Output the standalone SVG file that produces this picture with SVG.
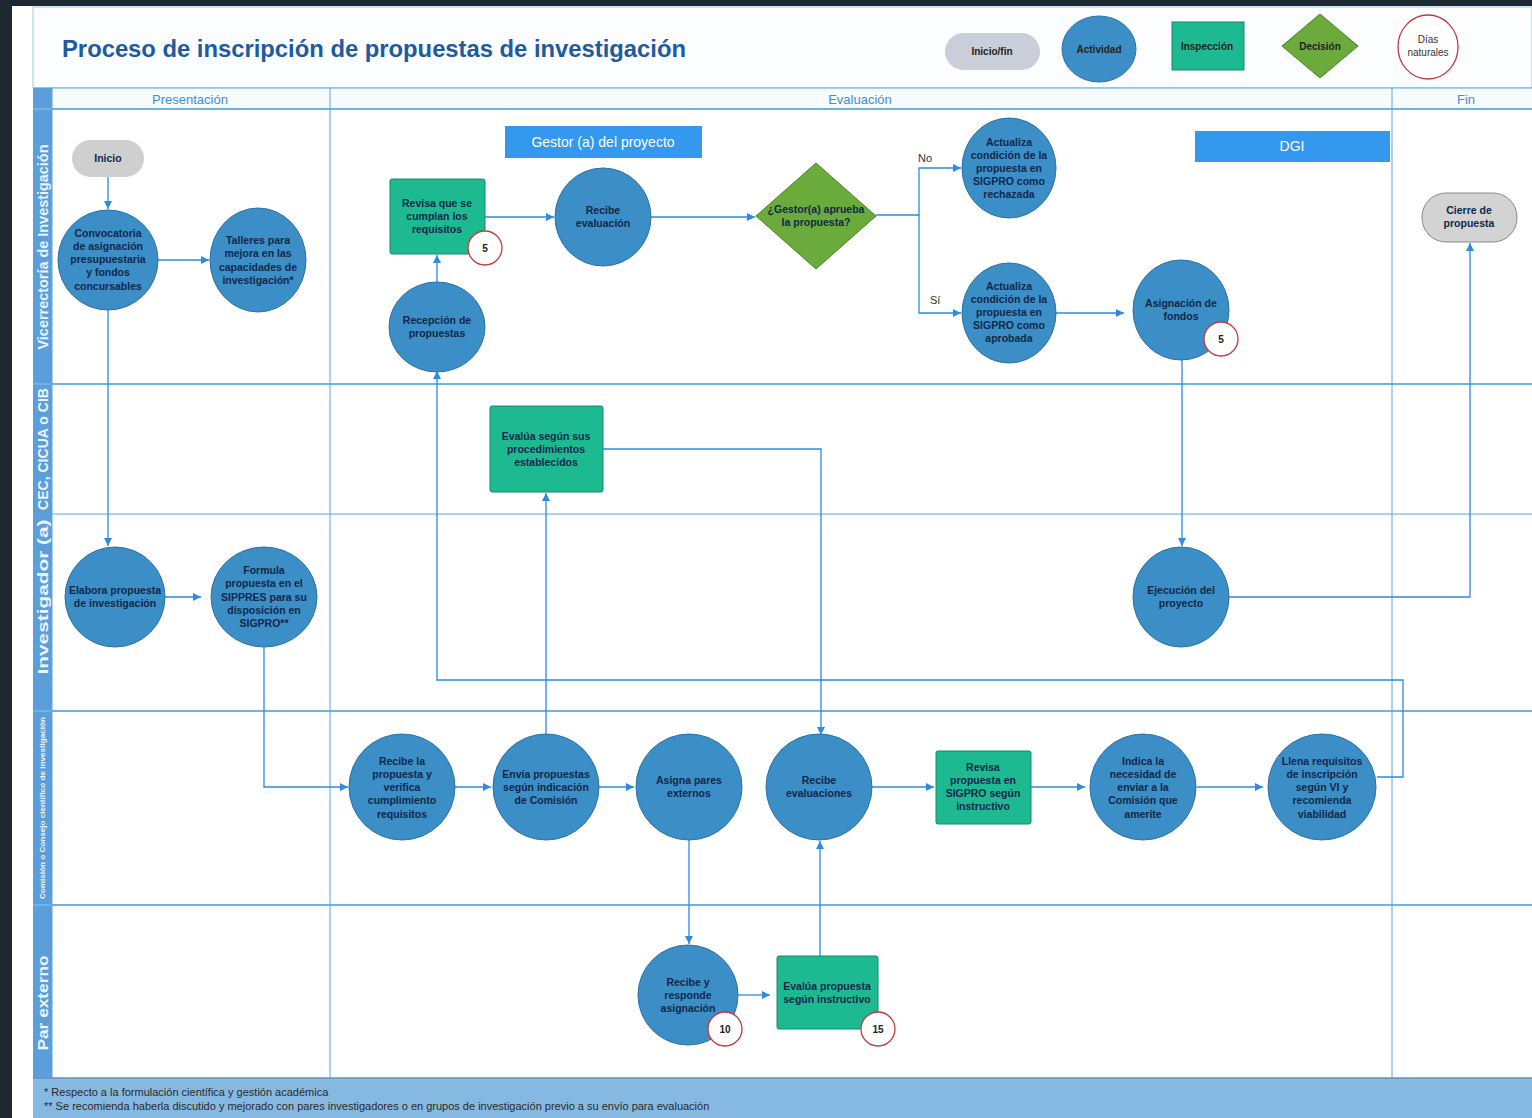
<svg xmlns="http://www.w3.org/2000/svg" width="1532" height="1118" viewBox="0 0 1532 1118">
<style>
.act{fill:#3b8ec6;stroke:#2c72a6;stroke-width:1}
.insp{fill:#1db991;stroke:#178a6c;stroke-width:1}
.dec{fill:#6bab3b;stroke:#4d7f2a;stroke-width:1}
.term{fill:#cfcfcf;stroke:none}
.badge{fill:#fff;stroke:#c23b3e;stroke-width:1.3}
.nt{font-family:"Liberation Sans",Arial,sans-serif;font-size:10.5px;font-weight:bold;fill:#10284a;text-anchor:middle}
.bt{font-family:"Liberation Sans",Arial,sans-serif;font-size:10px;font-weight:bold;fill:#222;text-anchor:middle}
.conn{fill:none;stroke:#2d8be3;stroke-width:1.3}
.grid{stroke:#5aa5dc;stroke-width:1;fill:none}
.lane{font-family:"Liberation Sans",Arial,sans-serif;font-weight:bold;fill:#eaf4fc;text-anchor:middle}
.phase{font-family:"Liberation Sans",Arial,sans-serif;font-size:13px;fill:#3a8fd6;text-anchor:middle}
.banner{fill:#3498ee}
.bannert{font-family:"Liberation Sans",Arial,sans-serif;font-size:14px;fill:#fff;text-anchor:middle}
.foot{font-family:"Liberation Sans",Arial,sans-serif;font-size:11px;fill:#2a2a2a}
.lbl{font-family:"Liberation Sans",Arial,sans-serif;font-size:11px;fill:#333}
</style>
<defs>
<marker id="arr" markerWidth="8" markerHeight="8" refX="8" refY="4" orient="auto" markerUnits="userSpaceOnUse">
<path d="M0,0 L8,4 L0,8 z" fill="#2d8be3"/>
</marker>
</defs>
<rect x="0" y="0" width="1532" height="1118" fill="#ffffff"/>
<rect x="0" y="0" width="1532" height="6" fill="#1e2833"/>
<rect x="0" y="0" width="12" height="1118" fill="#1e2833"/>

<g id="header">
<rect x="33" y="7" width="1499" height="81" fill="#fbfdff" stroke="#9ccbeb" stroke-width="1"/>
<text x="62" y="57" font-family="Liberation Sans, Arial, sans-serif" font-size="23" font-weight="bold" fill="#1d5a9e" textLength="624" lengthAdjust="spacingAndGlyphs">Proceso de inscripción de propuestas de investigación</text>
</g>

<g id="legend">
<rect x="945" y="33" width="95" height="37" rx="18.5" fill="#c9ced8"/>
<text class="bt" x="992" y="55">Inicio/fin</text>
<ellipse cx="1099" cy="49" rx="37" ry="33" class="act"/>
<text class="bt" x="1099" y="53">Actividad</text>
<rect x="1172" y="22" width="72" height="48" class="insp"/>
<text class="bt" x="1207" y="50">Inspección</text>
<polygon points="1320,14 1358,46 1320,78 1282,46" class="dec"/>
<text class="bt" x="1320" y="50">Decisión</text>
<ellipse cx="1428" cy="47" rx="30" ry="32" class="badge"/>
<text x="1428" y="43" font-family="Liberation Sans, Arial, sans-serif" font-size="10" fill="#333" text-anchor="middle">Días</text>
<text x="1428" y="56" font-family="Liberation Sans, Arial, sans-serif" font-size="10" fill="#333" text-anchor="middle">naturales</text>
</g>

<g id="pool">
<rect x="33" y="88" width="1499" height="21" fill="#f7fbfe"/>
<rect x="33" y="88" width="19" height="990" fill="#5c9ed9"/>
<rect x="33" y="1078" width="1499" height="40" fill="#86b9e2"/>
<line x1="33" y1="1078" x2="1532" y2="1078" stroke="#5b95c4" stroke-width="1.5"/>
<line x1="33" y1="88" x2="1532" y2="88" class="grid"/>
<line x1="33" y1="109" x2="1532" y2="109" stroke="#6fb2e3" stroke-width="2"/>
<line x1="33" y1="384" x2="1532" y2="384" stroke="#6fb2e3" stroke-width="2"/>
<line x1="33" y1="514" x2="1532" y2="514" class="grid"/>
<line x1="33" y1="711" x2="1532" y2="711" stroke="#6fb2e3" stroke-width="2"/>
<line x1="33" y1="905" x2="1532" y2="905" stroke="#6fb2e3" stroke-width="2"/>
<line x1="52" y1="88" x2="52" y2="1078" class="grid"/>
<line x1="330" y1="88" x2="330" y2="1078" class="grid"/>
<line x1="1392" y1="88" x2="1392" y2="1078" class="grid"/>
<text class="phase" x="190" y="104">Presentación</text>
<text class="phase" x="860" y="104">Evaluación</text>
<text class="phase" x="1466" y="104">Fin</text>
<text class="lane" font-size="14" transform="translate(48,247) rotate(-90)" textLength="205" lengthAdjust="spacingAndGlyphs">Vicerrectoría de Investigación</text>
<text class="lane" font-size="14" transform="translate(48,449) rotate(-90)" textLength="122" lengthAdjust="spacingAndGlyphs">CEC, CICUA o CIB</text>
<text class="lane" font-size="15" transform="translate(48,597) rotate(-90)" textLength="155" lengthAdjust="spacingAndGlyphs">Investigador (a)</text>
<text class="lane" font-size="7" font-weight="normal" transform="translate(45,808) rotate(-90)" textLength="182" lengthAdjust="spacingAndGlyphs">Comisión o Consejo científico de investigación</text>
<text class="lane" font-size="15" transform="translate(48,1003) rotate(-90)" textLength="95" lengthAdjust="spacingAndGlyphs">Par externo</text>
<text class="foot" x="44" y="1096">* Respecto a la formulación científica y gestión académica</text>
<text class="foot" x="44" y="1110">** Se recomienda haberla discutido y mejorado con pares investigadores o en grupos de investigación previo a su envío para evaluación</text>
</g>

<g id="banners">
<rect class="banner" x="505" y="126" width="197" height="32"/>
<text class="bannert" x="603" y="147">Gestor (a) del proyecto</text>
<rect class="banner" x="1195" y="131" width="195" height="31"/>
<text class="bannert" x="1292" y="151">DGI</text>
</g>

<g id="connectors">
<path class="conn" marker-end="url(#arr)" d="M108,177 V209"/>
<path class="conn" marker-end="url(#arr)" d="M158,260 H209"/>
<path class="conn" marker-end="url(#arr)" d="M108,310 V546"/>
<path class="conn" marker-end="url(#arr)" d="M165,597 H201"/>
<path class="conn" marker-end="url(#arr)" d="M264,647 V787 H348"/>
<path class="conn" marker-end="url(#arr)" d="M455,787 H491"/>
<path class="conn" marker-end="url(#arr)" d="M599,787 H634"/>
<path class="conn" marker-end="url(#arr)" d="M546,735 V493"/>
<path class="conn" marker-end="url(#arr)" d="M603,449 H821 V735"/>
<path class="conn" marker-end="url(#arr)" d="M689,840 V944"/>
<path class="conn" marker-end="url(#arr)" d="M738,995 H770"/>
<path class="conn" marker-end="url(#arr)" d="M820,956 V841"/>
<path class="conn" marker-end="url(#arr)" d="M872,787 H934"/>
<path class="conn" marker-end="url(#arr)" d="M1031,787 H1085"/>
<path class="conn" marker-end="url(#arr)" d="M1197,787 H1263"/>
<path class="conn" marker-end="url(#arr)" d="M1377,777 H1403 V680 H437 V371"/>
<path class="conn" marker-end="url(#arr)" d="M437,282 V255"/>
<path class="conn" marker-end="url(#arr)" d="M485,217 H554"/>
<path class="conn" marker-end="url(#arr)" d="M651,217 H755"/>
<path class="conn" marker-end="url(#arr)" d="M876,215 H919 V168 H961"/>
<path class="conn" marker-end="url(#arr)" d="M919,215 V313 H961"/>
<path class="conn" marker-end="url(#arr)" d="M1056,313 H1124"/>
<path class="conn" marker-end="url(#arr)" d="M1182,360 V546"/>
<path class="conn" marker-end="url(#arr)" d="M1229,597 H1470 V243"/>
<text class="lbl" x="918" y="162">No</text>
<text class="lbl" x="930" y="304">Sí</text>
</g>

<g id="n-inicio">
<rect x="72" y="140" width="72" height="37" rx="18.5" class="term"/>
<text class="nt" x="108" y="162" font-weight="normal" fill="#222">Inicio</text>
</g>
<g id="n-convocatoria">
<ellipse cx="108" cy="260" rx="50" ry="50" class="act"/>
<text class="nt"><tspan x="108" y="237">Convocatoria</tspan><tspan x="108" y="250">de asignación</tspan><tspan x="108" y="263">presupuestaria</tspan><tspan x="108" y="276">y fondos</tspan><tspan x="108" y="290">concursables</tspan></text>
</g>
<g id="n-talleres">
<ellipse cx="258" cy="260" rx="48" ry="52" class="act"/>
<text class="nt"><tspan x="258" y="244">Talleres para</tspan><tspan x="258" y="257">mejora en las</tspan><tspan x="258" y="271">capacidades de</tspan><tspan x="258" y="284">investigación*</tspan></text>
</g>
<g id="n-revisa-req">
<rect x="390" y="179" width="95" height="75" rx="2" class="insp"/>
<text class="nt"><tspan x="437" y="207">Revisa que se</tspan><tspan x="437" y="220">cumplan los</tspan><tspan x="437" y="233">requisitos</tspan></text>
<circle cx="485" cy="248" r="17" class="badge"/>
<text class="bt" x="485" y="252">5</text>
</g>
<g id="n-recibe-eval">
<ellipse cx="603" cy="217" rx="48" ry="49" class="act"/>
<text class="nt"><tspan x="603" y="214">Recibe</tspan><tspan x="603" y="227">evaluación</tspan></text>
</g>
<g id="n-recepcion">
<ellipse cx="437" cy="327" rx="48" ry="45" class="act"/>
<text class="nt"><tspan x="437" y="324">Recepción de</tspan><tspan x="437" y="337">propuestas</tspan></text>
</g>
<g id="n-decision">
<polygon points="816,163 876,216 816,269 756,216" class="dec"/>
<text class="nt"><tspan x="816" y="213">¿Gestor(a) aprueba</tspan><tspan x="816" y="226">la propuesta?</tspan></text>
</g>
<g id="n-rechazada">
<ellipse cx="1009" cy="168" rx="47" ry="50" class="act"/>
<text class="nt"><tspan x="1009" y="146">Actualiza</tspan><tspan x="1009" y="159">condición de la</tspan><tspan x="1009" y="172">propuesta en</tspan><tspan x="1009" y="185">SIGPRO como</tspan><tspan x="1009" y="198">rechazada</tspan></text>
</g>
<g id="n-aprobada">
<ellipse cx="1009" cy="313" rx="47" ry="50" class="act"/>
<text class="nt"><tspan x="1009" y="290">Actualiza</tspan><tspan x="1009" y="303">condición de la</tspan><tspan x="1009" y="316">propuesta en</tspan><tspan x="1009" y="329">SIGPRO como</tspan><tspan x="1009" y="342">aprobada</tspan></text>
</g>
<g id="n-asignacion">
<ellipse cx="1181" cy="310" rx="48" ry="50" class="act"/>
<text class="nt"><tspan x="1181" y="307">Asignación de</tspan><tspan x="1181" y="320">fondos</tspan></text>
<circle cx="1221" cy="339" r="17" class="badge"/>
<text class="bt" x="1221" y="343">5</text>
</g>
<g id="n-cierre">
<rect x="1422" y="193" width="95" height="49" rx="24" fill="#d3d3d3" stroke="#8a8a8a" stroke-width="1"/>
<text class="nt" font-weight="normal" fill="#222"><tspan x="1469" y="214">Cierre de</tspan><tspan x="1469" y="227">propuesta</tspan></text>
</g>
<g id="n-evalua-proc">
<rect x="490" y="406" width="113" height="86" rx="2" class="insp"/>
<text class="nt"><tspan x="546" y="440">Evalúa según sus</tspan><tspan x="546" y="453">procedimientos</tspan><tspan x="546" y="466">establecidos</tspan></text>
</g>
<g id="n-elabora">
<ellipse cx="115" cy="597" rx="50" ry="50" class="act"/>
<text class="nt"><tspan x="115" y="594">Elabora propuesta</tspan><tspan x="115" y="607">de investigación</tspan></text>
</g>
<g id="n-formula">
<ellipse cx="264" cy="597" rx="53" ry="50" class="act"/>
<text class="nt"><tspan x="264" y="574">Formula</tspan><tspan x="264" y="587">propuesta en el</tspan><tspan x="264" y="601">SIPPRES para su</tspan><tspan x="264" y="614">disposición en</tspan><tspan x="264" y="627">SIGPRO**</tspan></text>
</g>
<g id="n-ejecucion">
<ellipse cx="1181" cy="597" rx="48" ry="50" class="act"/>
<text class="nt"><tspan x="1181" y="594">Ejecución del</tspan><tspan x="1181" y="607">proyecto</tspan></text>
</g>
<g id="n-recibe-prop">
<ellipse cx="402" cy="787" rx="53" ry="53" class="act"/>
<text class="nt"><tspan x="402" y="765">Recibe la</tspan><tspan x="402" y="778">propuesta y</tspan><tspan x="402" y="791">verifica</tspan><tspan x="402" y="804">cumplimiento</tspan><tspan x="402" y="818">requisitos</tspan></text>
</g>
<g id="n-envia">
<ellipse cx="546" cy="787" rx="53" ry="53" class="act"/>
<text class="nt"><tspan x="546" y="778">Envía propuestas</tspan><tspan x="546" y="791">según indicación</tspan><tspan x="546" y="804">de Comisión</tspan></text>
</g>
<g id="n-asigna">
<ellipse cx="689" cy="787" rx="53" ry="53" class="act"/>
<text class="nt"><tspan x="689" y="784">Asigna pares</tspan><tspan x="689" y="797">externos</tspan></text>
</g>
<g id="n-recibe-evals">
<ellipse cx="819" cy="787" rx="53" ry="53" class="act"/>
<text class="nt"><tspan x="819" y="784">Recibe</tspan><tspan x="819" y="797">evaluaciones</tspan></text>
</g>
<g id="n-revisa-sigpro">
<rect x="936" y="751" width="95" height="73" rx="2" class="insp"/>
<text class="nt"><tspan x="983" y="771">Revisa</tspan><tspan x="983" y="784">propuesta en</tspan><tspan x="983" y="797">SIGPRO según</tspan><tspan x="983" y="810">instructivo</tspan></text>
</g>
<g id="n-indica">
<ellipse cx="1143" cy="787" rx="53" ry="53" class="act"/>
<text class="nt"><tspan x="1143" y="765">Indica la</tspan><tspan x="1143" y="778">necesidad de</tspan><tspan x="1143" y="791">enviar a la</tspan><tspan x="1143" y="804">Comisión que</tspan><tspan x="1143" y="818">amerite</tspan></text>
</g>
<g id="n-llena">
<ellipse cx="1322" cy="787" rx="54" ry="53" class="act"/>
<text class="nt"><tspan x="1322" y="765">Llena requisitos</tspan><tspan x="1322" y="778">de inscripción</tspan><tspan x="1322" y="791">según VI y</tspan><tspan x="1322" y="804">recomienda</tspan><tspan x="1322" y="818">viabilidad</tspan></text>
</g>
<g id="n-recibe-responde">
<ellipse cx="688" cy="995" rx="50" ry="50" class="act"/>
<text class="nt"><tspan x="688" y="986">Recibe y</tspan><tspan x="688" y="999">responde</tspan><tspan x="688" y="1012">asignación</tspan></text>
<circle cx="725" cy="1029" r="17" class="badge"/>
<text class="bt" x="725" y="1033">10</text>
</g>
<g id="n-evalua-prop">
<rect x="777" y="956" width="101" height="73" rx="2" class="insp"/>
<text class="nt"><tspan x="827" y="990">Evalúa propuesta</tspan><tspan x="827" y="1003">según instructivo</tspan></text>
<circle cx="878" cy="1029" r="17" class="badge"/>
<text class="bt" x="878" y="1033">15</text>
</g>
</svg>
